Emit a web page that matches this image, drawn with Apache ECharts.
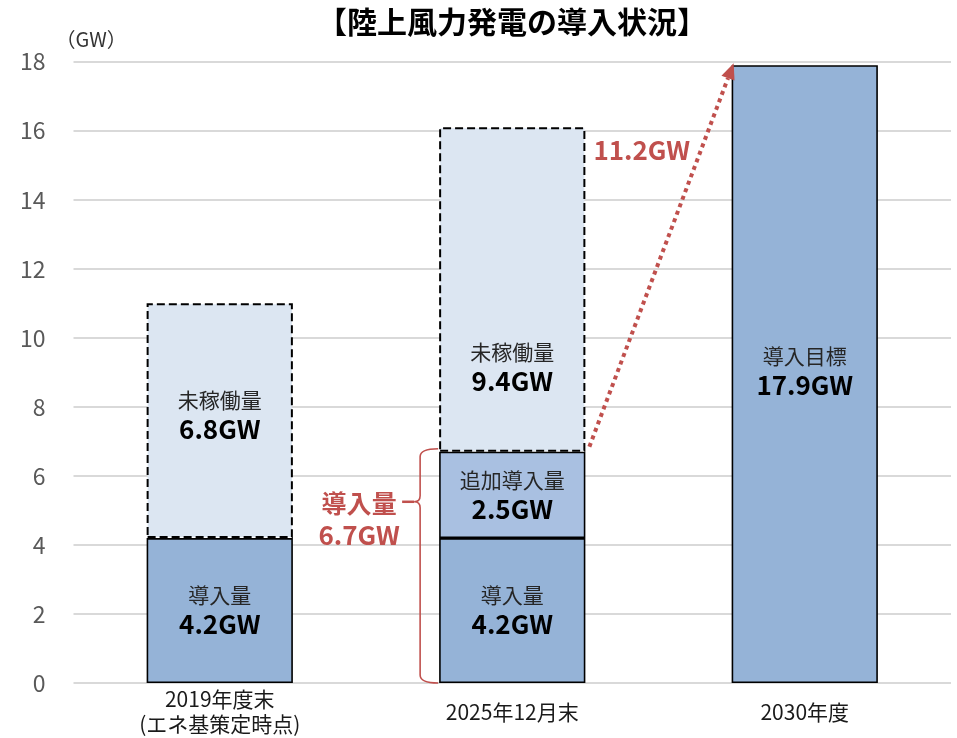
<!DOCTYPE html>
<html>
<head>
<meta charset="utf-8">
<script src="https://cdn.jsdelivr.net/npm/echarts@6/dist/echarts.min.js"></script>
<style>html,body{margin:0;padding:0;background:#fff}#c{width:957px;height:738px}</style>
</head>
<body>
<div id="c"></div>
<script>
// ---- data ----
const titleText = '【陸上風力発電の導入状況】';
const unitName = '（GW）';
const categories = ['2019年度末\n(エネ基策定時点)', '2025年12月末', '2030年度'];
const installed = [4.2, 4.2, 17.9];
const installedNames = ['導入量', '導入量', '導入目標'];
const added = [null, 2.5, null];
const addedNames = [null, '追加導入量', null];
const idle = [6.8, 9.4, null];
const idleNames = ['未稼働量', '未稼働量', null];
const yMin = 0, yMax = 18, yInterval = 2;
const bracketName = '導入量';
const bracketTotal = 6.7;     // 4.2 + 2.5
const bracketTipValue = 5.25;
const arrowFrom = 6.7;        // top of installed part, 2025
const arrowTo = 17.9;         // 2030 target
const gapText = (arrowTo - arrowFrom).toFixed(1) + 'GW';
const gapLabelValue = 15.45;

// ---- styles ----
const FONT = '"Noto Sans CJK JP", "Noto Sans", sans-serif';
const RED = '#C0504D';
const cInstalled = '#95B3D7';
const cAdded = '#A9C0E1';
const cIdle = '#DCE6F2';
const rich = {
  a: {fontSize: 21, lineHeight: 28, color: '#262626', fontFamily: FONT},
  b: {fontSize: 26, lineHeight: 30, color: '#000', fontWeight: 'bold', fontFamily: FONT}
};
const installedOffsets = [[0, 0], [0, 0], [0, -3]];
const idleOffsets = [[0, -6], [0, 78], [0, 0]];

function labeled(values, names, offsets) {
  return values.map((v, i) => v == null ? null : ({
    value: v,
    label: {offset: offsets ? offsets[i] : [0, 0], formatter: `{a|${names[i]}}\n{b|${v}GW}`}
  }));
}

const chart = echarts.init(document.getElementById('c'), null, {renderer: 'canvas'});

function renderAnno(params, api) {
  const band = api.size([1, 0])[0];
  const half = band * 0.25;
  const c1Top = api.coord([1, bracketTotal]);
  const c1Bot = api.coord([1, 0]);
  const barLeft = c1Top[0] - half;
  const barRight = c1Top[0] + half;
  const xb = barLeft - 19;
  const xTop = barLeft - 1;
  const yTop = c1Top[1] - 3;
  const yBot = c1Bot[1];
  const yTip = api.coord([1, bracketTipValue])[1];
  const xTip = xb - 6;
  const pathData = `M${xTop},${yTop} Q${xb},${yTop} ${xb},${yTop + 8} L${xb},${yTip - 6} Q${xb},${yTip} ${xTip},${yTip} Q${xb},${yTip} ${xb},${yTip + 6} L${xb},${yBot - 8} Q${xb},${yBot} ${xTop},${yBot}`;

  const p0 = api.coord([1, arrowFrom]);
  const p1 = api.coord([2, arrowTo]);
  const sx = p0[0] + half + 4, sy = p0[1] - 5;
  const ex = p1[0] - half + 2, ey = p1[1] - 2;
  const ang = Math.atan2(ey - sy, ex - sx);
  const hl = 16, hw = 7;
  const bx = ex - hl * Math.cos(ang), by = ey - hl * Math.sin(ang);
  const nx = -Math.sin(ang), ny = Math.cos(ang);
  const gy = api.coord([1, gapLabelValue])[1];

  return {
    type: 'group',
    children: [
      {type: 'path', shape: {pathData: pathData}, style: {stroke: RED, lineWidth: 1.6, fill: null}},
      {type: 'line', shape: {x1: xTip - 12, y1: yTip, x2: xTip, y2: yTip}, style: {stroke: RED, lineWidth: 2.5}},
      {type: 'text', style: {text: bracketName, x: xb - 61, y: yTip + 2, align: 'center', verticalAlign: 'middle',
        fill: RED, fontSize: 25, fontWeight: 'bold', fontFamily: FONT}},
      {type: 'text', style: {text: bracketTotal + 'GW', x: xb - 61, y: yTip + 33, align: 'center', verticalAlign: 'middle',
        fill: RED, fontSize: 26, fontWeight: 'bold', fontFamily: FONT}},
      {type: 'line', shape: {x1: sx, y1: sy, x2: bx, y2: by}, style: {stroke: RED, lineWidth: 4, lineDash: [4, 4], lineCap: 'butt'}},
      {type: 'polygon', shape: {points: [[ex, ey], [bx + nx * hw, by + ny * hw], [bx - nx * hw, by - ny * hw]]}, style: {fill: RED}},
      {type: 'text', style: {text: gapText, x: barRight + 8, y: gy, align: 'left', verticalAlign: 'middle',
        fill: RED, fontSize: 26, fontWeight: 'bold', fontFamily: FONT}}
    ]
  };
}

chart.setOption({
  animation: false,
  backgroundColor: '#fff',
  textStyle: {fontFamily: FONT},
  title: {
    text: titleText, left: 507, top: 2, textAlign: 'center',
    textStyle: {fontSize: 30, fontWeight: 'bold', color: '#000', fontFamily: FONT}
  },
  grid: {left: 73.5, right: 6, top: 61.7, bottom: 55, containLabel: false},
  xAxis: {
    type: 'category', data: categories,
    axisLine: {show: false}, axisTick: {show: false},
    axisLabel: {fontSize: 21, color: '#1a1a1a', lineHeight: 25, margin: 29, verticalAlign: 'middle', fontFamily: FONT, interval: 0}
  },
  yAxis: {
    type: 'value', min: yMin, max: yMax, interval: yInterval,
    name: unitName, nameLocation: 'end', nameGap: 12,
    nameTextStyle: {fontSize: 20, color: '#333', align: 'left', padding: [0, 0, 0, -18], fontFamily: FONT},
    axisLine: {show: false}, axisTick: {show: false},
    axisLabel: {fontSize: 23, color: '#595959', margin: 28, fontFamily: FONT},
    splitLine: {lineStyle: {color: '#D9D9D9', width: 2}}
  },
  series: [
    {
      name: '導入量', type: 'bar', stack: 'a', barWidth: '50%',
      data: labeled(installed, installedNames, installedOffsets),
      itemStyle: {color: cInstalled, borderColor: '#000', borderWidth: 1.6},
      label: {show: true, position: 'inside', rich: rich}
    },
    {
      name: '追加導入量', type: 'bar', stack: 'a', barWidth: '50%',
      data: labeled(added, addedNames, null),
      itemStyle: {color: cAdded, borderColor: '#000', borderWidth: 1.6},
      label: {show: true, position: 'inside', rich: rich}
    },
    {
      name: '未稼働量', type: 'bar', stack: 'a', barWidth: '50%',
      data: labeled(idle, idleNames, idleOffsets),
      itemStyle: {color: cIdle, borderColor: '#000', borderWidth: 2, borderType: [8, 4]},
      label: {show: true, position: 'inside', rich: rich}
    },
    {
      type: 'custom', silent: true, z: 10,
      data: [[1, 0]],
      renderItem: renderAnno
    }
  ]
});
</script>
</body>
</html>
